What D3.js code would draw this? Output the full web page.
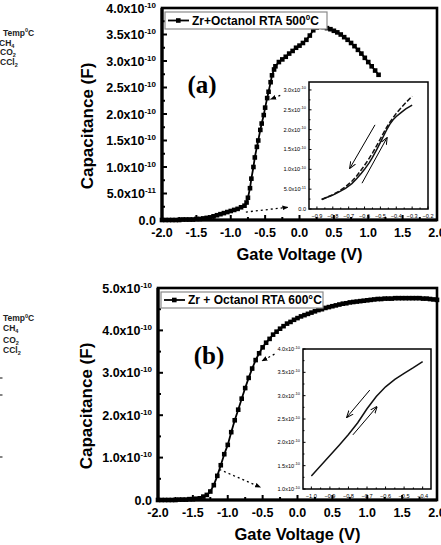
<!DOCTYPE html>
<html>
<head>
<meta charset="utf-8">
<script src="https://cdn.jsdelivr.net/npm/d3@7"></script>
<style>
  body { margin: 0; background: #fff; }
  svg { display: block; font-family: Arial, "Liberation Sans", sans-serif; }
</style>
</head>
<body>
<svg id="chart" width="441" height="545"></svg>
<script>
// ---- data (capacitance in units of 1e-10 F) ----
const xTicks = [-2.0, -1.5, -1.0, -0.5, 0.0, 0.5, 1.0, 1.5, 2.0];
const xTickLabels = ['-2.0', '-1.5', '-1.0', '-0.5', '0.0', '0.5', '1.0', '1.5', '2.0'];

const aYTicks = [0, 0.5, 1.0, 1.5, 2.0, 2.5, 3.0, 3.5, 4.0];
const aYLabels = ['0.0', '5.0x10|-11', '1.0x10|-10', '1.5x10|-10', '2.0x10|-10', '2.5x10|-10', '3.0x10|-10', '3.5x10|-10', '4.0x10|-10'];
const bYTicks = [0, 1.0, 2.0, 3.0, 4.0, 5.0];
const bYLabels = ['0.0', '1.0x10|-10', '2.0x10|-10', '3.0x10|-10', '4.0x10|-10', '5.0x10|-10'];

// panel (a): Zr+Octanol RTA 500C
const aVolt = [-2.0, -1.95, -1.9, -1.85, -1.8, -1.75, -1.7, -1.65, -1.6, -1.55, -1.5, -1.45, -1.4, -1.35, -1.3, -1.25,
  -1.2, -1.15, -1.1, -1.05, -1.0, -0.95, -0.9, -0.85, -0.8, -0.77, -0.75, -0.72, -0.7, -0.67, -0.65, -0.62, -0.6,
  -0.57, -0.55, -0.52, -0.5, -0.47, -0.45, -0.42, -0.4, -0.37, -0.35, -0.3, -0.25, -0.2, -0.15, -0.1, -0.05, 0.0,
  0.05, 0.1, 0.15, 0.2, 0.25, 0.3, 0.35, 0.4, 0.45, 0.5, 0.55, 0.6, 0.65, 0.7, 0.75, 0.8, 0.85, 0.9, 0.95, 1.0,
  1.05, 1.1, 1.15];
const aCap = [0.0, 0.0, 0.0, 0.0, 0.0, 0.0, 0.01, 0.01, 0.01, 0.01, 0.02, 0.02, 0.03, 0.04, 0.05, 0.07,
  0.09, 0.11, 0.13, 0.15, 0.17, 0.19, 0.21, 0.24, 0.27, 0.33, 0.42, 0.6, 0.78, 1.0, 1.18, 1.38, 1.5,
  1.7, 1.82, 1.98, 2.12, 2.3, 2.42, 2.6, 2.73, 2.84, 2.9, 2.98, 3.03, 3.08, 3.14, 3.19, 3.25, 3.29,
  3.34, 3.4, 3.48, 3.58, 3.63, 3.65, 3.64, 3.62, 3.6, 3.57, 3.54, 3.5, 3.45, 3.4, 3.34, 3.28, 3.21, 3.14, 3.06, 2.98,
  2.9, 2.82, 2.74];

// panel (b): Zr + Octanol RTA 600C
const bVolt = [-2.0, -1.95, -1.9, -1.85, -1.8, -1.75, -1.7, -1.65, -1.6, -1.55, -1.5, -1.45, -1.4, -1.35, -1.3, -1.25,
  -1.2, -1.15, -1.1, -1.05, -1.0, -0.95, -0.9, -0.85, -0.8, -0.75, -0.7, -0.65, -0.6, -0.55, -0.5, -0.45, -0.4,
  -0.35, -0.3, -0.25, -0.2, -0.15, -0.1, -0.05, 0.0, 0.05, 0.1, 0.15, 0.2, 0.25, 0.3, 0.35, 0.4, 0.45, 0.5,
  0.55, 0.6, 0.65, 0.7, 0.75, 0.8, 0.85, 0.9, 0.95, 1.0, 1.05, 1.1, 1.15, 1.2, 1.25, 1.3, 1.35, 1.4, 1.45, 1.5,
  1.55, 1.6, 1.65, 1.7, 1.75, 1.8, 1.85, 1.9, 1.95, 2.0];
const bCap = [0.0, 0.0, 0.0, 0.0, 0.0, 0.0, 0.01, 0.01, 0.01, 0.02, 0.02, 0.03, 0.04, 0.08, 0.12, 0.2,
  0.35, 0.57, 0.82, 1.08, 1.3, 1.6, 1.88, 2.13, 2.39, 2.64, 2.88, 3.1, 3.3, 3.46, 3.6, 3.71, 3.8,
  3.9, 3.97, 4.04, 4.1, 4.16, 4.2, 4.25, 4.29, 4.33, 4.36, 4.39, 4.42, 4.45, 4.48, 4.5, 4.53, 4.55, 4.57,
  4.59, 4.61, 4.63, 4.64, 4.66, 4.67, 4.68, 4.69, 4.7, 4.71, 4.72, 4.73, 4.74, 4.74, 4.75, 4.75, 4.75, 4.76, 4.76, 4.76,
  4.76, 4.76, 4.76, 4.76, 4.76, 4.75, 4.75, 4.74, 4.73, 4.72];

// inset (a): hysteresis sweeps
const insAXTicks = [-0.9, -0.8, -0.7, -0.6, -0.5, -0.4, -0.3, -0.2];
const insAYTicks = [0, 0.5, 1.0, 1.5, 2.0, 2.5, 3.0];
const insAYLabels = ['0.0', '5.0x10|-11', '1.0x10|-10', '1.5x10|-10', '2.0x10|-10', '2.5x10|-10', '3.0x10|-10'];
const insAVolt = [-0.87, -0.84, -0.8, -0.76, -0.72, -0.68, -0.65, -0.62, -0.6, -0.57, -0.55, -0.52, -0.5, -0.48,
  -0.46, -0.44, -0.42, -0.4, -0.37, -0.34, -0.3];
const insACapUp = [0.24, 0.29, 0.35, 0.43, 0.52, 0.64, 0.76, 0.9, 1.0, 1.17, 1.3, 1.52, 1.68, 1.84,
  2.0, 2.14, 2.25, 2.33, 2.43, 2.52, 2.62];
const insACapDown = [0.24, 0.29, 0.36, 0.45, 0.56, 0.7, 0.83, 0.99, 1.1, 1.28, 1.41, 1.62, 1.77, 1.92,
  2.06, 2.19, 2.3, 2.41, 2.55, 2.68, 2.84];

// inset (b)
const insBXTicks = [-1.0, -0.9, -0.8, -0.7, -0.6, -0.5, -0.4];
const insBYTicks = [1.0, 1.5, 2.0, 2.5, 3.0, 3.5, 4.0];
const insBYLabels = ['1.0x10|-10', '1.5x10|-10', '2.0x10|-10', '2.5x10|-10', '3.0x10|-10', '3.5x10|-10', '4.0x10|-10'];
const insBVolt = [-1.0, -0.95, -0.9, -0.85, -0.8, -0.75, -0.7, -0.65, -0.6, -0.55, -0.5, -0.45, -0.4];
const insBCap = [1.28, 1.5, 1.72, 1.94, 2.17, 2.42, 2.72, 2.98, 3.19, 3.35, 3.48, 3.6, 3.73];

const svg = d3.select('#chart');

// arrow heads
const defs = svg.append('defs');
defs.append('marker').attr('id', 'headFill')
  .attr('viewBox', '0 0 10 10').attr('refX', 9).attr('refY', 5)
  .attr('markerWidth', 6).attr('markerHeight', 6).attr('orient', 'auto')
  .attr('markerUnits', 'userSpaceOnUse')
  .append('path').attr('d', 'M0,1 L10,5 L0,9 Z').attr('fill', '#000');
defs.append('marker').attr('id', 'headOpen')
  .attr('viewBox', '0 0 10 10').attr('refX', 9).attr('refY', 5)
  .attr('markerWidth', 7).attr('markerHeight', 7).attr('orient', 'auto')
  .attr('markerUnits', 'userSpaceOnUse')
  .append('path').attr('d', 'M0,1 L10,5 L0,9').attr('fill', 'none').attr('stroke', '#000').attr('stroke-width', 1.4);

// "4.0x10|-10" -> mantissa + superscript
function supLabel(sel, label, supSize, supShift) {
  const parts = label.split('|');
  sel.append('tspan').text(parts[0]);
  if (parts[1]) {
    sel.append('tspan').attr('dy', -supShift).attr('font-size', supSize).text(parts[1]);
  }
}

function drawAxes(g, x, y, o) {
  const [x0, x1] = x.range();
  const [y0, y1] = y.range(); // y0 bottom, y1 top

  g.append('rect')
    .attr('x', x0).attr('y', y1).attr('width', x1 - x0).attr('height', y0 - y1)
    .attr('fill', o.fill || 'none').attr('stroke', '#000').attr('stroke-width', o.frame);

  // ticks inward
  o.xMinor.forEach(v => g.append('line').attr('x1', x(v)).attr('x2', x(v))
    .attr('y1', y0).attr('y2', y0 - o.minorLen).attr('stroke', '#000').attr('stroke-width', o.tickW));
  o.xTicks.forEach(v => g.append('line').attr('x1', x(v)).attr('x2', x(v))
    .attr('y1', y0).attr('y2', y0 - o.majorLen).attr('stroke', '#000').attr('stroke-width', o.tickW));
  o.yMinor.forEach(v => g.append('line').attr('x1', x0).attr('x2', x0 + o.minorLen)
    .attr('y1', y(v)).attr('y2', y(v)).attr('stroke', '#000').attr('stroke-width', o.tickW));
  o.yTicks.forEach(v => g.append('line').attr('x1', x0).attr('x2', x0 + o.majorLen)
    .attr('y1', y(v)).attr('y2', y(v)).attr('stroke', '#000').attr('stroke-width', o.tickW));

  o.xTicks.forEach((v, i) => g.append('text')
    .attr('x', x(v)).attr('y', y0 + o.xLabelDy)
    .attr('text-anchor', 'middle').attr('dominant-baseline', 'central')
    .attr('font-size', o.font).attr('font-weight', o.weight)
    .text(o.xLabels[i]));

  o.yTicks.forEach((v, i) => {
    const t = g.append('text')
      .attr('x', x0 - o.yLabelDx).attr('y', y(v) + o.font * 0.36)
      .attr('text-anchor', 'end')
      .attr('font-size', o.font).attr('font-weight', o.weight);
    supLabel(t, o.yLabels[i], o.supSize, o.supShift);
  });
}

function halfSteps(ticks) {
  const out = [];
  for (let i = 0; i < ticks.length - 1; i++) out.push((ticks[i] + ticks[i + 1]) / 2);
  return out;
}

function drawPanel(p) {
  const g = svg.append('g');
  const x = d3.scaleLinear().domain([-2, 2]).range([p.left, p.right]);
  const y = d3.scaleLinear().domain([0, p.yMax]).range([p.bottom, p.top]);

  drawAxes(g, x, y, {
    frame: 2.6, tickW: 2, majorLen: 5, minorLen: 3,
    xTicks: xTicks, xLabels: xTickLabels, xMinor: halfSteps(xTicks),
    yTicks: p.yTicks, yLabels: p.yLabels, yMinor: halfSteps(p.yTicks),
    font: 12.5, weight: 'bold', supSize: 8, supShift: 5, xLabelDy: 13, yLabelDx: 6
  });
  // heavier left / bottom spines
  g.append('line').attr('x1', p.left).attr('x2', p.right).attr('y1', p.bottom).attr('y2', p.bottom)
    .attr('stroke', '#000').attr('stroke-width', 3.2);
  g.append('line').attr('x1', p.left).attr('x2', p.left).attr('y1', p.top).attr('y2', p.bottom)
    .attr('stroke', '#000').attr('stroke-width', 3.2);

  // axis titles
  g.append('text')
    .attr('transform', `translate(${p.yTitleX}, ${(p.top + p.bottom) / 2 + 12}) rotate(-90)`)
    .attr('text-anchor', 'middle').attr('dominant-baseline', 'central')
    .attr('font-size', 17).attr('font-weight', 'bold').text('Capacitance (F)');
  g.append('text')
    .attr('x', (p.left + p.right) / 2).attr('y', p.bottom + 34)
    .attr('text-anchor', 'middle').attr('dominant-baseline', 'central')
    .attr('font-size', 16.5).attr('font-weight', 'bold').text('Gate Voltage (V)');

  // main curve
  const pts = p.volt.map((v, i) => [v, p.cap[i]]);
  const line = d3.line().x(d => x(d[0])).y(d => y(d[1]));
  g.append('path').datum(pts).attr('d', line)
    .attr('fill', 'none').attr('stroke', '#000').attr('stroke-width', 1.8);
  g.selectAll('rect.pt').data(pts).enter().append('rect')
    .attr('class', 'pt')
    .attr('x', d => x(d[0]) - 2.3).attr('y', d => y(d[1]) - 2.3)
    .attr('width', 4.6).attr('height', 4.6).attr('fill', '#000');

  // dotted arrows pointing to the inset region
  p.pointers.forEach(a => g.append('line')
    .attr('x1', x(a[0])).attr('y1', y(a[1])).attr('x2', x(a[2])).attr('y2', y(a[3]))
    .attr('stroke', '#000').attr('stroke-width', 1.3).attr('stroke-dasharray', '2,3')
    .attr('marker-end', 'url(#headFill)'));

  // legend
  const lg = g.append('g');
  lg.append('rect').attr('x', p.legend.x).attr('y', p.legend.y)
    .attr('width', p.legend.w).attr('height', p.legend.h)
    .attr('fill', '#fff').attr('stroke', '#8a8a8a').attr('stroke-width', 1.2);
  const ly = p.legend.y + p.legend.h / 2;
  lg.append('line').attr('x1', p.legend.x + 3).attr('x2', p.legend.x + 24)
    .attr('y1', ly).attr('y2', ly).attr('stroke', '#000').attr('stroke-width', 1.8);
  lg.append('rect').attr('x', p.legend.x + 11).attr('y', ly - 2.3)
    .attr('width', 4.6).attr('height', 4.6).attr('fill', '#000');
  const lt = lg.append('text').attr('x', p.legend.x + p.legend.tx).attr('y', ly + 4.3)
    .attr('font-size', 12).attr('font-weight', 'bold');
  supLabel(lt, p.legend.text, 8, 5);
  if (p.legend.tail) lt.append('tspan').attr('dy', 5).text(p.legend.tail);

  // panel letter
  g.append('text').attr('x', p.letterX).attr('y', p.letterY)
    .attr('text-anchor', 'middle')
    .attr('font-family', '"Times New Roman", "Liberation Serif", serif')
    .attr('font-size', 25).attr('font-weight', 'bold').text(p.letter);

  return g;
}

function drawInset(g, s) {
  const x = d3.scaleLinear().domain(s.xDomain).range([s.left, s.right]);
  const y = d3.scaleLinear().domain(s.yDomain).range([s.bottom, s.top]);
  drawAxes(g, x, y, {
    fill: '#fff', frame: 1.5, tickW: 1, majorLen: 2.5, minorLen: 1.5,
    xTicks: s.xTicks, xLabels: s.xTicks.map(d3.format('.1f')), xMinor: halfSteps(s.xTicks),
    yTicks: s.yTicks, yLabels: s.yLabels, yMinor: halfSteps(s.yTicks),
    font: 5.6, weight: 'normal', supSize: 4, supShift: 2.5, xLabelDy: 7, yLabelDx: 3
  });
  const line = d3.line().x(d => x(d[0])).y(d => y(d[1]));
  s.curves.forEach(c => g.append('path')
    .datum(c.volt.map((v, i) => [v, c.cap[i]]))
    .attr('d', line).attr('fill', 'none').attr('stroke', '#111')
    .attr('stroke-width', 1.5).attr('stroke-dasharray', c.dash || null));
  s.arrows.forEach(a => g.append('line')
    .attr('x1', x(a[0])).attr('y1', y(a[1])).attr('x2', x(a[2])).attr('y2', y(a[3]))
    .attr('stroke', '#000').attr('stroke-width', 1)
    .attr('marker-end', 'url(#headOpen)'));
}

// ---- panel (a) ----
const gA = drawPanel({
  left: 162, right: 437, top: 8, bottom: 220, yMax: 4.0, yTitleX: 87,
  yTicks: aYTicks, yLabels: aYLabels, volt: aVolt, cap: aCap,
  pointers: [[-0.78, 0.15, -0.17, 0.24], [-0.28, 2.35, -0.42, 2.28]],
  legend: { x: 165, y: 12, w: 162, h: 17, tx: 27, text: 'Zr+Octanol RTA 500|0', tail: 'C' },
  letter: '(a)', letterX: 202, letterY: 93
});
drawInset(gA, {
  left: 309, right: 428, top: 82, bottom: 209,
  xDomain: [-0.95, -0.2], yDomain: [0, 3.2],
  xTicks: insAXTicks, yTicks: insAYTicks, yLabels: insAYLabels,
  curves: [{ volt: insAVolt, cap: insACapUp }, { volt: insAVolt, cap: insACapDown, dash: '5,2' }],
  arrows: [[-0.534, 2.12, -0.692, 1.03], [-0.616, 0.65, -0.459, 1.79]]
});

// ---- panel (b) ----
const gB = drawPanel({
  left: 158, right: 437, top: 288, bottom: 500, yMax: 5.0, yTitleX: 86,
  yTicks: bYTicks, yLabels: bYLabels, volt: bVolt, cap: bCap,
  pointers: [[-1.12, 0.72, -0.53, 0.3], [-0.33, 3.44, -0.51, 3.28]],
  legend: { x: 161, y: 292, w: 162, h: 16, tx: 27, text: 'Zr + Octanol RTA 600\u00B0C' },
  letter: '(b)', letterX: 209, letterY: 364
});
drawInset(gB, {
  left: 303, right: 431, top: 349, bottom: 489,
  xDomain: [-1.045, -0.355], yDomain: [1.0, 4.0],
  xTicks: insBXTicks, yTicks: insBYTicks, yLabels: insBYLabels,
  curves: [{ volt: insBVolt, cap: insBCap }],
  arrows: [[-0.685, 3.12, -0.808, 2.54], [-0.776, 2.16, -0.647, 2.76]]
});

// ---- clipped legend text from the neighbouring figure (left edge) ----
const fragments = [
  { y: 35.5, parts: ['Temp', '0', 'C'], x: 3 },
  { y: 45.5, parts: ['CH', '', '4'], x: -1 },
  { y: 54.5, parts: ['CO', '', '2'], x: 0 },
  { y: 64.5, parts: ['CCl', '', '2'], x: 0 },
  { y: 321, parts: ['Temp', '0', 'C'], x: 3 },
  { y: 331, parts: ['CH', '', '4'], x: 3 },
  { y: 343, parts: ['CO', '', '2'], x: 3 },
  { y: 353, parts: ['CCl', '', '2'], x: 3 }
];
fragments.forEach(f => {
  const t = svg.append('text').attr('x', f.x).attr('y', f.y)
    .attr('font-size', 8.5).attr('font-weight', 'bold').attr('fill', '#222');
  t.append('tspan').text(f.parts[0]);
  if (f.parts[1]) {
    t.append('tspan').attr('dy', -3.5).attr('font-size', 5.5).text(f.parts[1]);
    t.append('tspan').attr('dy', 3.5).text(f.parts[2]);
  } else {
    t.append('tspan').attr('dy', 2).attr('font-size', 5.5).text(f.parts[2]);
  }
});
[378, 395, 457].forEach(yy => svg.append('line')
  .attr('x1', 0).attr('x2', 2.5).attr('y1', yy).attr('y2', yy)
  .attr('stroke', '#333').attr('stroke-width', 1.2));
</script>
</body>
</html>
